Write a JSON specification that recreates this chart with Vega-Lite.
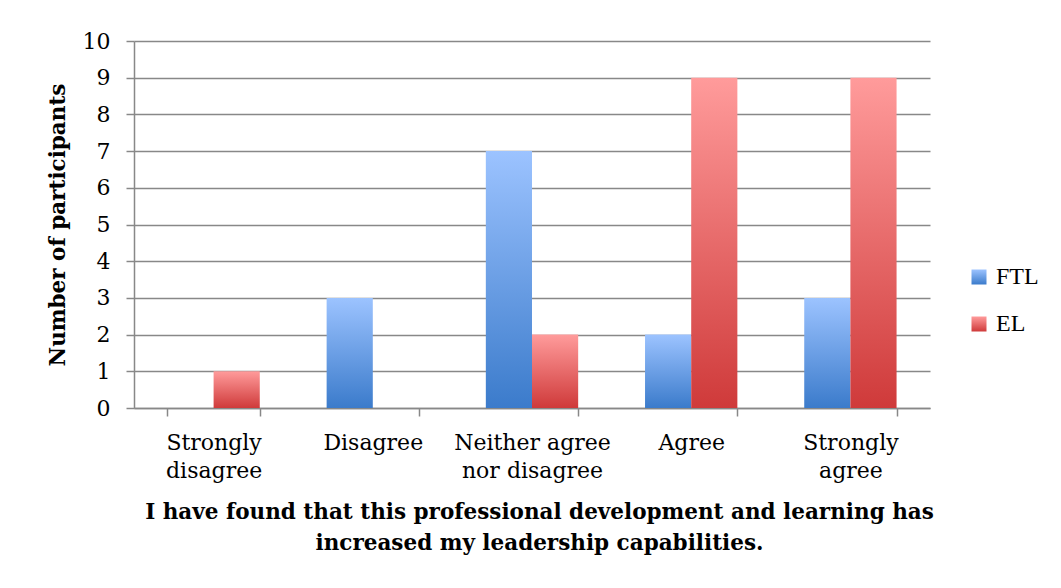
{
  "$schema": "https://vega.github.io/schema/vega-lite/v6.json",
  "width": 796,
  "height": 367,
  "autosize": "none",
  "padding": {"left": 134, "top": 41, "right": 131, "bottom": 180},
  "background": "white",
  "data": {
    "values": [
      {"response": "Strongly disagree", "group": "FTL", "count": 0},
      {"response": "Strongly disagree", "group": "EL", "count": 1},
      {"response": "Disagree", "group": "FTL", "count": 3},
      {"response": "Disagree", "group": "EL", "count": 0},
      {"response": "Neither agree nor disagree", "group": "FTL", "count": 7},
      {"response": "Neither agree nor disagree", "group": "EL", "count": 2},
      {"response": "Agree", "group": "FTL", "count": 2},
      {"response": "Agree", "group": "EL", "count": 9},
      {"response": "Strongly agree", "group": "FTL", "count": 3},
      {"response": "Strongly agree", "group": "EL", "count": 9}
    ]
  },
  "encoding": {
    "x": {
      "field": "response",
      "type": "nominal",
      "sort": ["Strongly disagree", "Disagree", "Neither agree nor disagree", "Agree", "Strongly agree"],
      "scale": {"paddingInner": 0.42, "paddingOuter": 0.21},
      "axis": {
        "title": ["I have found that this professional development and learning has", "increased my leadership capabilities."],
        "titleFont": "DejaVu Serif",
        "titleFontSize": 21.5,
        "titleFontWeight": "bold",
        "titleColor": "black",
        "titleLineHeight": 31,
        "titlePadding": 20,
        "titleX": 405,
        "labelAngle": 0,
        "labelFont": "DejaVu Serif",
        "labelFontSize": 22,
        "labelColor": "black",
        "labelLineHeight": 28,
        "labelPadding": 16,
        "labelExpr": "datum.label == 'Strongly disagree' ? ['Strongly', 'disagree'] : datum.label == 'Neither agree nor disagree' ? ['Neither agree', 'nor disagree'] : datum.label == 'Strongly agree' ? ['Strongly', 'agree'] : datum.label",
        "tickBand": "extent",
        "tickColor": "#888888",
        "tickSize": 8,
        "tickWidth": 1.5,
        "domainColor": "#888888",
        "domainWidth": 1.5,
        "grid": false
      }
    },
    "xOffset": {"field": "group", "type": "nominal", "sort": ["FTL", "EL"], "scale": {"paddingInner": 0, "paddingOuter": 0}},
    "y": {
      "field": "count",
      "type": "quantitative",
      "scale": {"domain": [0, 10], "nice": false},
      "axis": {
        "title": "Number of participants",
        "titleFont": "DejaVu Serif",
        "titleFontSize": 21.5,
        "titleFontWeight": "bold",
        "titleColor": "black",
        "titlePadding": 13,
        "values": [0, 1, 2, 3, 4, 5, 6, 7, 8, 9, 10],
        "labelFont": "DejaVu Serif",
        "labelFontSize": 22,
        "labelColor": "black",
        "labelPadding": 16,
        "tickColor": "#888888",
        "tickSize": 8,
        "tickWidth": 1.5,
        "domainColor": "#888888",
        "domainWidth": 1.5,
        "grid": true,
        "gridColor": "#888888",
        "gridWidth": 1.5
      }
    }
  },
  "layer": [
    {
      "mark": {
        "type": "bar",
        "fill": {"expr": "datum.group == 'FTL' ? {gradient: 'linear', x1: 0, y1: 0, x2: 0, y2: 1, stops: [{offset: 0, color: '#9CC3FF'}, {offset: 1, color: '#3B7BCB'}]} : {gradient: 'linear', x1: 0, y1: 0, x2: 0, y2: 1, stops: [{offset: 0, color: '#FF9B9B'}, {offset: 1, color: '#CF3A3A'}]}"}
      }
    },
    {
      "mark": {
        "type": "point",
        "filled": true,
        "opacity": 0,
        "fill": {"expr": "(datum.group || datum.value) == 'FTL' ? {gradient: 'linear', x1: 0, y1: 0, x2: 0, y2: 1, stops: [{offset: 0, color: '#9CC3FF'}, {offset: 1, color: '#3B7BCB'}]} : {gradient: 'linear', x1: 0, y1: 0, x2: 0, y2: 1, stops: [{offset: 0, color: '#FF9B9B'}, {offset: 1, color: '#CF3A3A'}]}"}
      },
      "encoding": {
        "shape": {
          "field": "group",
          "type": "nominal",
          "sort": ["FTL", "EL"],
          "scale": {"domain": ["FTL", "EL"], "range": ["square", "square"]},
          "legend": {
            "title": null,
            "orient": "none",
            "legendX": 833,
            "legendY": 224,
            "symbolSize": 225,
            "symbolStrokeWidth": 0,
            "symbolOpacity": 1,
            "labelFont": "Liberation Serif, Times New Roman, serif",
            "labelFontSize": 24,
            "labelColor": "black",
            "labelOffset": 5,
            "rowPadding": 23
          }
        }
      }
    }
  ],
  "config": {
    "view": {"stroke": null}
  }
}
